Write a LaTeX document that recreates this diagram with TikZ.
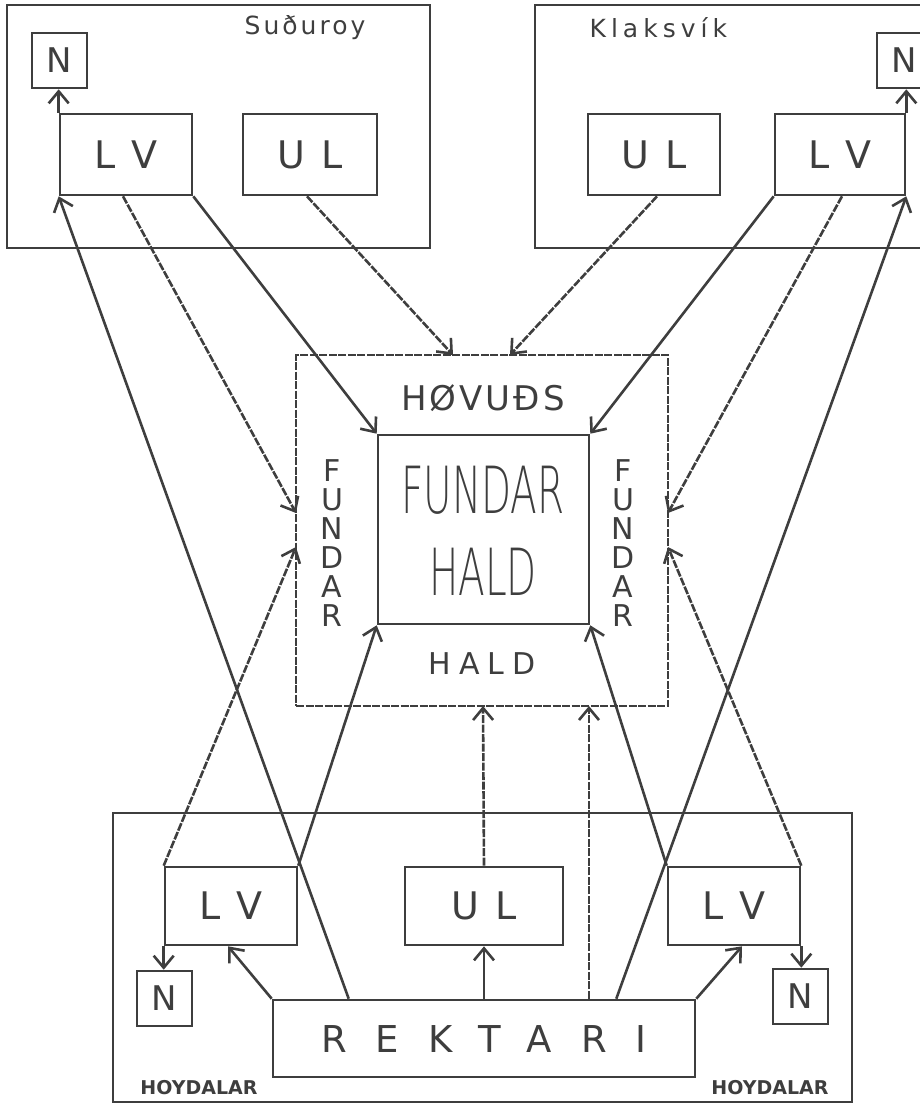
\documentclass[tikz,border=0pt]{standalone}
\usepackage{fontspec}
\usepackage{graphicx}
\setmainfont{DejaVu Sans}
\newfontfamily\thinfont{DejaVu Sans ExtraLight}
\usetikzlibrary{arrows.meta}
\definecolor{pen}{RGB}{62,62,62}

\begin{document}
\begin{tikzpicture}[x=1pt,y=-1pt,line width=2.6pt,color=pen,
  box/.style={draw, inner sep=0pt, minimum width=132pt, minimum height=81pt, font=\fontsize{38}{40}\selectfont\addfontfeature{LetterSpace=10}},
  nbox/.style={draw, inner sep=0pt, minimum size=55pt, font=\fontsize{34}{36}\selectfont},
  area/.style={draw, inner sep=0pt},
  beaded/.style={dash pattern=on 8pt off 1.5pt},
  link/.style={-{Straight Barb[length=12pt,width=20pt]}}]
\useasboundingbox (0,0) rectangle (920,1104);

\node[area, minimum width=423pt, minimum height=243pt] (sud) at (218.5,126.5) {};
\node[area, minimum width=400pt, minimum height=243pt] (kla) at (735,126.5) {};
\node[area, minimum width=739pt, minimum height=289pt] (hoy) at (482.5,957.5) {};
\node[font=\fontsize{25}{27}\selectfont\addfontfeature{LetterSpace=12}] (sudname) at (305,28) {Suðuroy};
\node[anchor=west, font=\fontsize{25}{27}\selectfont\addfontfeature{LetterSpace=20}] (klaname) at (585,28) {Klaksvík};

\node[nbox] (sN) at (59.5,60.5) {N};
\node[box] (sLV) at (126,154.5) {L V};
\node[box, minimum width=134pt] (sUL) at (310,154.5) {U L};
\node[box] (kUL) at (654,154.5) {U L};
\node[box, minimum width=130pt] (kLV) at (840,154.5) {L V};
\node[nbox] (kN) at (904.5,60.5) {N};

\node[draw, beaded, inner sep=0pt, minimum width=372pt, minimum height=351pt] (outer) at (482,530.5) {};
\node[draw, inner sep=0pt, minimum width=211pt, minimum height=189pt] (inner) at (483.5,529.5) {};
\node[font=\fontsize{34}{36}\selectfont\addfontfeature{LetterSpace=9}] (hovud) at (483,398) {HØVUÐS};
\node[align=center, font=\thinfont\fontsize{65}{82}\selectfont] (fundarhald) at (483,531) {\scalebox{0.6}[1]{FUNDAR}\\\scalebox{0.6}[1]{HALD}};
\node[font=\fontsize{30}{32}\selectfont\addfontfeature{LetterSpace=27}] (hald) at (482,664) {HALD};
\node[align=center, font=\fontsize{30}{29}\selectfont] (fundarL) at (332,543) {F\\U\\N\\D\\A\\R};
\node[align=center, font=\fontsize{30}{29}\selectfont] (fundarR) at (623,543) {F\\U\\N\\D\\A\\R};
\coordinate (topL) at (453,355);
\coordinate (topR) at (510,355);
\coordinate (leftU) at (296,513);
\coordinate (leftD) at (296,547);
\coordinate (rightU) at (668,513);
\coordinate (rightD) at (668,547);
\coordinate (botL) at (483,706);
\coordinate (botR) at (589,706);

\node[box, minimum height=78pt] (hLVl) at (231,906) {L V};
\node[box, minimum height=78pt, minimum width=158pt] (hUL) at (484,906) {U L};
\node[box, minimum height=78pt] (hLVr) at (734,906) {L V};
\node[nbox] (hNl) at (164.5,998.5) {N};
\node[nbox] (hNr) at (800.5,996.5) {N};
\node[draw, inner sep=0pt, minimum width=422pt, minimum height=77pt, font=\fontsize{37}{39}\selectfont\addfontfeature{LetterSpace=78}] (rekt) at (484,1038.5) {REKTARI};
\node[font=\bfseries\fontsize{19}{20}\selectfont] (hoyL) at (199,1088) {HOYDALAR};
\node[font=\bfseries\fontsize{19}{20}\selectfont] (hoyR) at (770,1088) {HOYDALAR};

\draw[link] (sLV.north west) -- (sLV.north west |- sN.south);
\draw[link] (kLV.north east) -- (kLV.north east |- kN.south);
\draw[link] ([xshift=77pt]rekt.north west) -- (sLV.south west);
\draw[link] ([xshift=-80pt]rekt.north east) -- (kLV.south east);
\draw[link, beaded] ([xshift=-3pt]sLV.south) -- (leftU);
\draw[link] (sLV.south east) -- (inner.north west);
\draw[link, beaded] ([xshift=-3pt]sUL.south) -- (topL);
\draw[link, beaded] ([xshift=3pt]kUL.south) -- (topR);
\draw[link] (kLV.south west) -- (inner.north east);
\draw[link, beaded] ([xshift=2pt]kLV.south) -- (rightU);
\draw[link, beaded] (hLVl.north west) -- (leftD);
\draw[link] (hLVl.north east) -- (inner.south west);
\draw[link, beaded] (hUL.north) -- (botL);
\draw[link, beaded] ([xshift=105pt]rekt.north) -- (botR);
\draw[link] (hLVr.north west) -- (inner.south east);
\draw[link, beaded] (hLVr.north east) -- (rightD);
\draw[link] (rekt.north) -- (hUL.south);
\draw[link] (rekt.north west) -- ([xshift=-3pt]hLVl.south);
\draw[link] (rekt.north east) -- ([xshift=8pt]hLVr.south);
\draw[link] (hLVl.south west) -- (hLVl.south west |- hNl.north);
\draw[link] (hLVr.south east) -- (hLVr.south east |- hNr.north);
\end{tikzpicture}
\end{document}
